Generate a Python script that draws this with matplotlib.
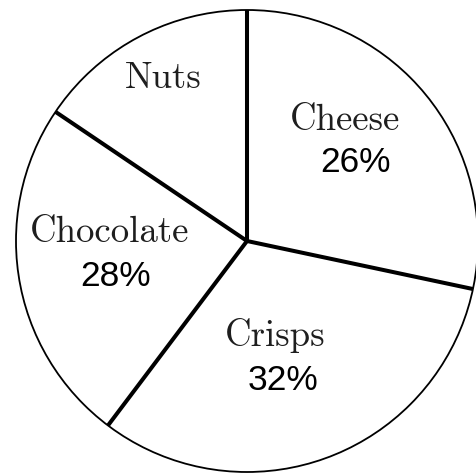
import numpy as np
import matplotlib
matplotlib.use("Agg")
import matplotlib.pyplot as plt
from matplotlib.patches import Circle

# sector sizes as drawn (degrees), and the printed labels
snacks = ["Cheese", "Crisps", "Chocolate", "Nuts"]
sizes = [102, 115, 87, 56]
pct_labels = ["26%", "32%", "28%", ""]

# label placement (data units, pie radius = 1)
name_pos = [(0.424, 0.524), (0.121, -0.407), (-0.593, 0.039), (-0.364, 0.706)]
pct_pos = [(0.468, 0.338), (0.156, -0.602), (-0.571, -0.152), None]

fig = plt.figure(figsize=(4.76, 4.76), dpi=100)
ax = fig.add_axes([0, 0, 1, 1])

wedges, _ = ax.pie(sizes, startangle=90, counterclock=False, radius=1,
                   wedgeprops={"facecolor": "white", "edgecolor": "none"})

# thick dividing lines from the wedge boundaries
angles = set()
for w in wedges:
    angles.add(round(w.theta1 % 360, 6))
for a in angles:
    t = np.deg2rad(a)
    ax.plot([0, np.cos(t)], [0, np.sin(t)], color="black", lw=2.9,
            solid_capstyle="butt")

ax.add_patch(Circle((0, 0), 1, fill=False, edgecolor="black", lw=1.3))

for i in range(len(snacks)):
    x, y = name_pos[i]
    ax.text(x, y, snacks[i], ha="center", va="center", fontsize=26.5,
            family="cmr10", color="#1e1e1e")
    if pct_pos[i] is not None:
        px, py = pct_pos[i]
        ax.text(px, py, pct_labels[i], ha="center", va="center", fontsize=25.5,
                family="Liberation Sans", color="black")

ax.set_xlim(-247 / 231, 229 / 231)
ax.set_ylim(-235 / 231, 241 / 231)
ax.set_aspect("equal")
ax.axis("off")

plt.savefig("out.png", dpi=100)
